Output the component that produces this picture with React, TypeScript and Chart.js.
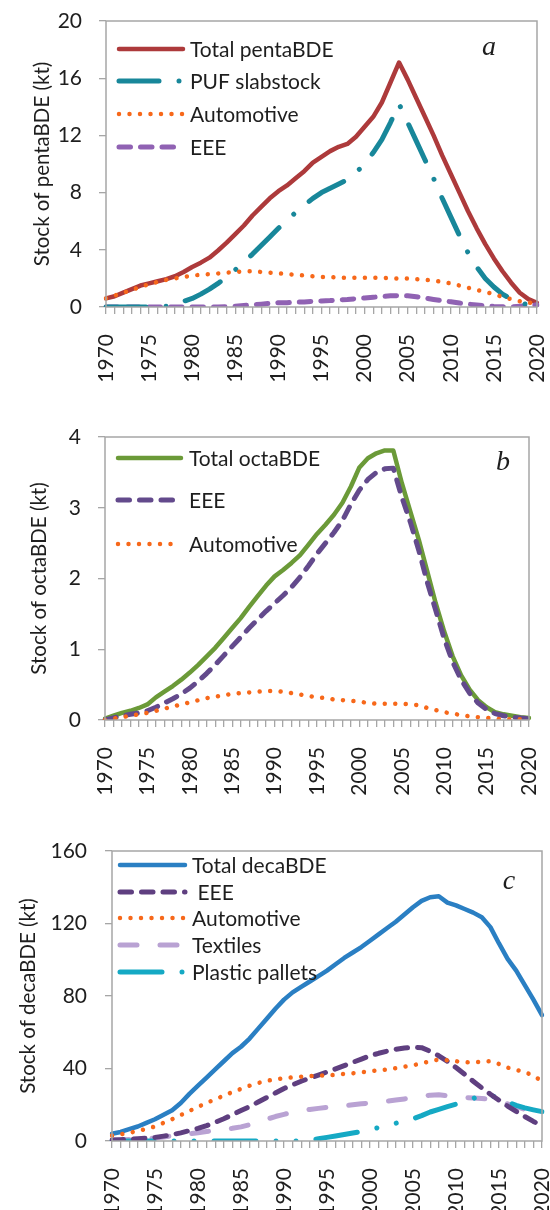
import React, { useEffect, useRef } from 'react';
import { Chart, registerables } from 'chart.js';

Chart.register(...registerables);

// ---------- data ----------
const YEARS = [
  1970, 1971, 1972, 1973, 1974, 1975, 1976, 1977, 1978, 1979,
  1980, 1981, 1982, 1983, 1984, 1985, 1986, 1987, 1988, 1989,
  1990, 1991, 1992, 1993, 1994, 1995, 1996, 1997, 1998, 1999,
  2000, 2001, 2002, 2003, 2004, 2005, 2006, 2007, 2008, 2009,
  2010, 2011, 2012, 2013, 2014, 2015, 2016, 2017, 2018, 2019,
  2020,
];

// panel a (pentaBDE, kt)
const PENTA_TOTAL = [
  0.6, 0.75, 1.0, 1.25, 1.5, 1.65, 1.8, 1.95, 2.15, 2.45,
  2.8, 3.1, 3.45, 3.95, 4.5, 5.1, 5.7, 6.4, 7.0, 7.6,
  8.1, 8.5, 9.0, 9.5, 10.1, 10.5, 10.9, 11.2, 11.4, 11.9,
  12.6, 13.3, 14.3, 15.7, 17.1, 15.9, 14.6, 13.3, 12.0, 10.6,
  9.3, 8.0, 6.7, 5.5, 4.4, 3.4, 2.5, 1.7, 1.0, 0.55,
  0.3,
];
const PENTA_PUF = [
  0, 0, 0, 0, 0, 0, 0, 0.05, 0.2, 0.4,
  0.6, 0.9, 1.25, 1.65, 2.1, 2.6, 3.15, 3.7, 4.3, 4.9,
  5.5, 6.1, 6.6, 7.1, 7.6, 8.0, 8.3, 8.6, 8.9, 9.4,
  10.0, 10.8, 11.7, 12.9, 14.2, 12.9, 11.6, 10.3, 9.0, 7.6,
  6.3, 5.0, 3.8, 2.8, 2.0, 1.4, 0.9, 0.55, 0.3, 0.15,
  0.1,
];
const PENTA_AUTO = [
  0.6, 0.8, 1.0, 1.2, 1.4, 1.6, 1.75, 1.9, 2.0, 2.1,
  2.2, 2.25, 2.3, 2.35, 2.4, 2.45, 2.5, 2.5, 2.45, 2.4,
  2.35, 2.3, 2.25, 2.2, 2.15, 2.1, 2.1, 2.05, 2.05, 2.05,
  2.05, 2.05, 2.05, 2.0, 2.0, 2.0, 1.95, 1.9, 1.85, 1.75,
  1.65, 1.5, 1.35, 1.2, 1.05, 0.9, 0.7, 0.55, 0.4, 0.3,
  0.25,
];
const PENTA_EEE = [
  0, 0, 0, 0, 0, 0, 0, 0, 0, 0,
  0, 0, 0, 0, 0.02, 0.05, 0.1, 0.15, 0.2, 0.25,
  0.3, 0.3, 0.35, 0.35, 0.4, 0.42, 0.45, 0.5, 0.52, 0.58,
  0.63, 0.68, 0.73, 0.78, 0.8, 0.78, 0.72, 0.63, 0.53, 0.44,
  0.36, 0.28, 0.2, 0.14, 0.08, 0.04, 0.02, 0.01, 0.05, 0.1,
  0.15,
];

// panel b (octaBDE, kt)
const OCTA_TOTAL = [
  0.02, 0.06, 0.1, 0.13, 0.17, 0.22, 0.32, 0.4, 0.48, 0.57,
  0.67, 0.78, 0.9, 1.02, 1.16, 1.3, 1.44, 1.6, 1.75, 1.9,
  2.03, 2.12, 2.22, 2.33, 2.48, 2.63, 2.76, 2.9, 3.07, 3.3,
  3.57, 3.7, 3.77, 3.81, 3.81, 3.35, 2.95, 2.55, 2.1, 1.65,
  1.25, 0.9, 0.63, 0.43, 0.28, 0.18, 0.11, 0.08, 0.06, 0.04,
  0.03,
];
const OCTA_EEE = [
  0, 0.03, 0.06, 0.08, 0.1, 0.13, 0.18, 0.24, 0.3, 0.37,
  0.45, 0.55, 0.66, 0.78, 0.91, 1.04, 1.17, 1.3, 1.42, 1.54,
  1.65, 1.76, 1.88, 2.02, 2.18, 2.35, 2.5, 2.65, 2.82, 3.05,
  3.25, 3.4, 3.5, 3.55, 3.56, 3.15, 2.8, 2.4, 1.95, 1.55,
  1.15, 0.82, 0.57, 0.38, 0.24, 0.15, 0.09, 0.06, 0.04, 0.03,
  0.02,
];
const OCTA_AUTO = [
  0, 0.02, 0.04, 0.06, 0.08, 0.1, 0.13, 0.16, 0.19, 0.22,
  0.25, 0.28, 0.31, 0.33, 0.35, 0.37, 0.38, 0.39, 0.4, 0.41,
  0.41, 0.4, 0.38, 0.36, 0.34, 0.32, 0.31, 0.29, 0.28, 0.27,
  0.26, 0.24, 0.23, 0.23, 0.23, 0.23, 0.22, 0.21, 0.17, 0.14,
  0.11, 0.09, 0.07, 0.05, 0.04, 0.03, 0.02, 0.01, 0.01, 0.01,
  0.01,
];

// panel c (decaBDE, kt)
const DECA_TOTAL = [
  4, 5, 6.5, 8, 10, 12, 14.5, 17, 21, 26,
  30.5, 35, 39.5, 44, 48.5, 52, 56.5, 62, 67.5, 73,
  78, 82, 85, 88, 91, 94, 97.5, 101, 104, 107,
  110.5, 114, 117.5, 121, 125, 129, 132.5, 134.5, 135, 131.5,
  130, 128, 126, 123.5, 118, 109, 100.5, 94, 86, 78,
  69.5,
];
const DECA_EEE = [
  0.5, 0.7, 1, 1.3, 1.6, 2, 2.7, 3.5, 4.5, 5.7,
  7, 8.5, 10.3, 12.3, 14.5, 16.8, 19, 21.5, 24, 26.5,
  29, 31, 33, 34.7, 36.4, 38.1, 39.8, 41.6, 43.4, 45.2,
  47, 48.4, 49.6, 50.6, 51.3, 51.7, 51.5, 49.5, 47, 44,
  40.5, 36.8, 33, 29.3, 25.8, 22.5, 19.3, 16.3, 13.5, 10.8,
  8.3,
];
const DECA_AUTO = [
  3, 3.7, 4.5, 5.5, 6.7, 8, 10, 12, 14.3, 16.6,
  18.8, 21, 23, 25, 27, 28.8, 30.5, 32, 33.2, 34,
  34.6, 35.1, 35.5, 35.8, 36, 36.2, 36.5, 37, 37.4, 37.9,
  38.4, 39, 39.5, 40.2, 41, 41.8, 42.8, 44, 45, 44.5,
  44, 43.5, 43.3, 43.8, 44, 42.5, 40.5, 39.2, 38, 36,
  33,
];
const DECA_TEXTILES = [
  0.5, 0.6, 0.8, 1, 1.3, 1.7, 2.2, 2.8, 3.4, 4,
  4.6, 5.2, 5.8, 6.4, 7, 7.8, 9, 10.5, 12, 13.5,
  14.7, 15.8, 16.7, 17.4, 18, 18.5, 19, 19.5, 20, 20.5,
  21, 21.5, 22, 22.6, 23.2, 23.8, 24.6, 25.3, 25.5, 25,
  24.4, 24, 23.7, 23.5, 23, 22, 20.5, 19, 17.5, 16.5,
  15.5,
];
const DECA_PALLETS = [
  0, 0, 0, 0, 0, 0, 0, 0, 0, 0,
  0, 0, 0, 0, 0, 0, 0, 0, 0, 0,
  0, 0, 0, 0.5, 1.2, 2, 2.8, 3.6, 4.4, 5.3,
  6.2, 7.4, 8.6, 9.8, 11, 12.2, 14, 16, 17.5, 19,
  20.3, 22, 23.5, 25, 25.3, 23.5, 21.5, 19.7, 18.3, 17.2,
  16.2,
];

const LABELS_A = ['Total pentaBDE', 'PUF slabstock', 'Automotive', 'EEE'];
const LABELS_B = ['Total octaBDE', 'EEE', 'Automotive'];
const LABELS_C = ['Total decaBDE', ' EEE', 'Automotive', 'Textiles', 'Plastic pallets'];

const Y_TICKS_A = [0, 4, 8, 12, 16, 20];
const Y_TICKS_B = [0, 1, 2, 3, 4];
const Y_TICKS_C = [0, 40, 80, 120, 160];

// ---------- styles ----------
const FONT = 'Lato, "Open Sans", "DejaVu Sans", sans-serif';
const TEXT = '#1e1e1e';
const GRAY = '#a6a6a6';
const TICK_SIZE = 21;
const LEGEND_SIZE = 21;

type Style = { color: string; width: number; dash: number[]; order: number };

const SOLID = (color: string, order: number): Style => ({ color, width: 4.5, dash: [], order });
const DOTTED = (color: string, order: number): Style => ({ color, width: 4.5, dash: [0.001, 10.5], order });
const DASHED = (color: string, order: number): Style => ({ color, width: 5, dash: [11.5, 10], order });
const LONGDASH = (color: string, order: number): Style => ({ color, width: 5, dash: [17, 23], order });
const DASHDOT = (color: string, order: number): Style => ({ color, width: 5, dash: [40, 20, 0.001, 20], order });
const DASHDOTDOT = (color: string, order: number): Style => ({ color, width: 5, dash: [42, 20, 0.001, 20, 0.001, 20], order });

type Panel = {
  top: number;
  height: number;
  left: number;
  right: number;
  plotTop: number;
  plotBottom: number;
  yTicks: number[];
  yTitle: string;
  yTitleSize: number;
  titleCenterX: number;
  yTickPad: number;
  series: { label: string; data: number[]; style: Style }[];
  legend: { x0: number; x1: number; tx: number; ys: number[] };
  letter: string;
  letterX: number;
  letterY: number;
};

const PANELS: Panel[] = [
  {
    top: 0, height: 395, left: 106, right: 537, plotTop: 21, plotBottom: 307,
    yTicks: Y_TICKS_A, yTitle: 'Stock of pentaBDE (kt)', yTitleSize: 20.5, titleCenterX: 42, yTickPad: 17,
    series: [
      { label: LABELS_A[0], data: PENTA_TOTAL, style: SOLID('#ad3a3b', 4) },
      { label: LABELS_A[1], data: PENTA_PUF, style: DASHDOT('#18879a', 2) },
      { label: LABELS_A[2], data: PENTA_AUTO, style: DOTTED('#f7681a', 1) },
      { label: LABELS_A[3], data: PENTA_EEE, style: DASHED('#9062b3', 3) },
    ],
    legend: { x0: 119, x1: 183, tx: 190, ys: [49, 81, 114, 147] },
    letter: 'a', letterX: 489, letterY: 48,
  },
  {
    top: 400, height: 405, left: 105, right: 529, plotTop: 437, plotBottom: 720,
    yTicks: Y_TICKS_B, yTitle: 'Stock of octaBDE (kt)', yTitleSize: 20.5, titleCenterX: 39, yTickPad: 17,
    series: [
      { label: LABELS_B[0], data: OCTA_TOTAL, style: SOLID('#6b9a38', 3) },
      { label: LABELS_B[1], data: OCTA_EEE, style: DASHED('#634a8c', 2) },
      { label: LABELS_B[2], data: OCTA_AUTO, style: DOTTED('#f7681a', 1) },
    ],
    legend: { x0: 118, x1: 181, tx: 189, ys: [458, 500, 544] },
    letter: 'b', letterX: 503, letterY: 463,
  },
  {
    top: 810, height: 400, left: 112, right: 542, plotTop: 851, plotBottom: 1141,
    yTicks: Y_TICKS_C, yTitle: 'Stock of decaBDE (kt)', yTitleSize: 20.5, titleCenterX: 28, yTickPad: 18,
    series: [
      { label: LABELS_C[0], data: DECA_TOTAL, style: SOLID('#2a7fc3', 5) },
      { label: LABELS_C[1], data: DECA_EEE, style: DASHED('#5f3f80', 2) },
      { label: LABELS_C[2], data: DECA_AUTO, style: DOTTED('#f7681a', 1) },
      { label: LABELS_C[3], data: DECA_TEXTILES, style: LONGDASH('#b9a2d3', 4) },
      { label: LABELS_C[4], data: DECA_PALLETS, style: DASHDOTDOT('#15a9c4', 3) },
    ],
    legend: { x0: 120, x1: 185, tx: 192, ys: [865, 892, 918, 945, 972] },
    letter: 'c', letterX: 509, letterY: 882,
  },
];

const decoPlugin = {
  id: 'panelDeco',
  afterDraw(chart: any, _args: any, opts: any) {
    const { ctx, chartArea: ca } = chart;
    const off = opts.offsetTop as number;
    ctx.save();
    // frame
    ctx.strokeStyle = GRAY;
    ctx.lineWidth = 1.5;
    ctx.setLineDash([]);
    ctx.strokeRect(ca.left, ca.top, ca.right - ca.left, ca.bottom - ca.top);
    // legend
    const lg = opts.legend;
    chart.data.datasets.forEach((ds: any, i: number) => {
      const y = lg.ys[i] - off;
      ctx.beginPath();
      ctx.strokeStyle = ds.borderColor;
      ctx.lineWidth = ds.borderWidth;
      ctx.lineCap = 'round';
      ctx.setLineDash(ds.borderDash || []);
      ctx.moveTo(lg.x0, y);
      ctx.lineTo(lg.x1, y);
      ctx.stroke();
      ctx.setLineDash([]);
      ctx.fillStyle = TEXT;
      ctx.font = `${LEGEND_SIZE}px ${FONT}`;
      ctx.textAlign = 'left';
      ctx.textBaseline = 'middle';
      ctx.fillText(ds.label, lg.tx, y + 1);
    });
    // panel letter
    ctx.font = 'italic 28px "Liberation Serif", "DejaVu Serif", serif';
    ctx.textAlign = 'center';
    ctx.textBaseline = 'middle';
    ctx.fillStyle = TEXT;
    ctx.fillText(opts.letter, opts.letterX, opts.letterY - off);
    ctx.restore();
  },
};

function PanelChart({ p }: { p: Panel }) {
  const ref = useRef<HTMLCanvasElement | null>(null);
  useEffect(() => {
    if (!ref.current) return;
    const yMax = p.yTicks[p.yTicks.length - 1];
    const yStep = p.yTicks[1] - p.yTicks[0];
    const xAxisH = p.top + p.height - p.plotBottom;
    const chart = new Chart(ref.current, {
      type: 'line',
      data: {
        labels: YEARS.map(String),
        datasets: p.series.map((s) => ({
          label: s.label,
          data: s.data,
          borderColor: s.style.color,
          backgroundColor: s.style.color,
          borderWidth: s.style.width,
          borderDash: s.style.dash,
          borderCapStyle: 'round',
          borderJoinStyle: 'round',
          pointRadius: 0,
          tension: 0,
          fill: false,
          order: s.style.order,
        })),
      },
      options: {
        animation: false,
        responsive: false,
        maintainAspectRatio: false,
        layout: { padding: { top: p.plotTop - p.top, right: 550 - p.right, bottom: 0, left: 0 } },
        plugins: {
          legend: { display: false },
          tooltip: { enabled: false },
          panelDeco: {
            offsetTop: p.top,
            legend: p.legend,
            letter: p.letter,
            letterX: p.letterX,
            letterY: p.letterY,
          },
        } as any,
        scales: {
          x: {
            type: 'category',
            offset: false,
            grid: { display: true, drawOnChartArea: false, drawTicks: true, tickLength: 7, color: GRAY, lineWidth: 1.3 },
            border: { display: false },
            ticks: {
              autoSkip: false,
              maxRotation: 90,
              minRotation: 90,
              padding: 20,
              color: TEXT,
              font: { family: FONT, size: TICK_SIZE },
              callback: (_v: any, i: number) => (YEARS[i] % 5 === 0 ? String(YEARS[i]) : ''),
            },
            afterFit: (s: any) => {
              s.height = xAxisH;
              s.paddingLeft = 0;
              s.paddingRight = 0;
            },
          },
          y: {
            min: 0,
            max: yMax,
            grid: { display: true, drawOnChartArea: false, drawTicks: true, tickLength: 7, color: GRAY, lineWidth: 1.3 },
            border: { display: false },
            ticks: {
              stepSize: yStep,
              padding: p.yTickPad,
              color: TEXT,
              font: { family: FONT, size: TICK_SIZE },
            },
            title: {
              display: true,
              text: p.yTitle,
              color: TEXT,
              font: { family: FONT, size: p.yTitleSize },
              padding: { top: p.titleCenterX - (p.yTitleSize * 1.2) / 2, bottom: 0 },
            },
            afterFit: (s: any) => {
              s.width = p.left;
              s.paddingTop = 0;
              s.paddingBottom = 0;
            },
          },
        },
      },
      plugins: [decoPlugin as any],
    } as any);
    return () => chart.destroy();
  }, [p]);
  return (
    <canvas
      ref={ref}
      width={550}
      height={p.height}
      style={{ position: 'absolute', left: 0, top: p.top, width: 550, height: p.height, display: 'block' }}
    />
  );
}

export default function App() {
  return (
    <div style={{ position: 'absolute', left: 0, top: 0, width: 550, height: 1210, background: '#fff', overflow: 'hidden' }}>
      {PANELS.map((p, i) => (
        <PanelChart key={i} p={p} />
      ))}
    </div>
  );
}
